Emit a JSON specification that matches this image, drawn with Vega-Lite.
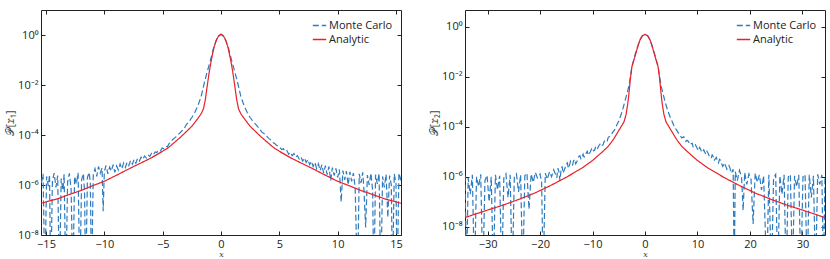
{
"$schema": "https://vega.github.io/schema/vega-lite/v6.json",
"background": "white",
"padding": {"left": 4, "top": 9, "right": 4, "bottom": 0},
"config": {
  "view": {"stroke": null},
  "font": "Open Sans",
  "axis": {"grid": false, "domainColor": "#222", "tickColor": "#222", "labelColor": "#222", "labelFontSize": 11, "tickSize": -4, "labelPadding": 7, "domainWidth": 1, "tickWidth": 1, "labelFont": "Open Sans"},
  "legend": {"orient": "top-right", "offset": 8, "title": null, "labelFontSize": 11, "labelFont": "Open Sans", "labelColor": "#222", "symbolType": "stroke", "symbolStrokeWidth": 1.3, "symbolSize": 180, "rowPadding": 1, "labelOffset": 2, "padding": 0}
},
"spacing": 25,
"resolve": {"scale": {"color": "independent", "strokeDash": "independent"}},
"datasets": {
"L": [
{"s":"Analytic","x":-15.43,"p":1.86e-7},{"s":"Analytic","x":-14,"p":2.82e-7},{"s":"Analytic","x":-13,"p":4.17e-7},{"s":"Analytic","x":-12,"p":6.03e-7},{"s":"Analytic","x":-11,"p":9.33e-7},{"s":"Analytic","x":-10,"p":1.41e-6},{"s":"Analytic","x":-9,"p":2.4e-6},{"s":"Analytic","x":-8,"p":4.17e-6},{"s":"Analytic","x":-7,"p":7.08e-6},{"s":"Analytic","x":-6,"p":1.2e-5},{"s":"Analytic","x":-5,"p":2.24e-5},{"s":"Analytic","x":-4.5,"p":3.16e-5},{"s":"Analytic","x":-4,"p":5.01e-5},{"s":"Analytic","x":-3.5,"p":7.94e-5},{"s":"Analytic","x":-3,"p":1.32e-4},{"s":"Analytic","x":-2.5,"p":2.24e-4},{"s":"Analytic","x":-2,"p":4.47e-4},{"s":"Analytic","x":-1.7,"p":7.08e-4},{"s":"Analytic","x":-1.5,"p":1.12e-3},{"s":"Analytic","x":-1.35,"p":2.51e-3},{"s":"Analytic","x":-1.2,"p":7.94e-3},{"s":"Analytic","x":-1.0,"p":0.0355},{"s":"Analytic","x":-0.8,"p":0.117},{"s":"Analytic","x":-0.6,"p":0.316},{"s":"Analytic","x":-0.4,"p":0.631},{"s":"Analytic","x":-0.2,"p":0.933},{"s":"Analytic","x":0,"p":1.07},
{"s":"Analytic","x":0.2,"p":0.933},{"s":"Analytic","x":0.4,"p":0.631},{"s":"Analytic","x":0.6,"p":0.316},{"s":"Analytic","x":0.8,"p":0.117},{"s":"Analytic","x":1.0,"p":0.0355},{"s":"Analytic","x":1.2,"p":7.94e-3},{"s":"Analytic","x":1.35,"p":2.51e-3},{"s":"Analytic","x":1.5,"p":1.12e-3},{"s":"Analytic","x":1.7,"p":7.08e-4},{"s":"Analytic","x":2,"p":4.47e-4},{"s":"Analytic","x":2.5,"p":2.24e-4},{"s":"Analytic","x":3,"p":1.32e-4},{"s":"Analytic","x":3.5,"p":7.94e-5},{"s":"Analytic","x":4,"p":5.01e-5},{"s":"Analytic","x":4.5,"p":3.16e-5},{"s":"Analytic","x":5,"p":2.24e-5},{"s":"Analytic","x":6,"p":1.2e-5},{"s":"Analytic","x":7,"p":7.08e-6},{"s":"Analytic","x":8,"p":4.17e-6},{"s":"Analytic","x":9,"p":2.4e-6},{"s":"Analytic","x":10,"p":1.41e-6},{"s":"Analytic","x":11,"p":9.33e-7},{"s":"Analytic","x":12,"p":6.03e-7},{"s":"Analytic","x":13,"p":4.17e-7},{"s":"Analytic","x":14,"p":2.82e-7},{"s":"Analytic","x":15.43,"p":1.86e-7},
{"s":"Monte Carlo","x":-15.4,"p":1.2e-6},{"s":"Monte Carlo","x":-15.25,"p":2.8e-6},{"s":"Monte Carlo","x":-15.1,"p":1e-10},{"s":"Monte Carlo","x":-14.95,"p":2.2e-6},{"s":"Monte Carlo","x":-14.8,"p":9e-7},{"s":"Monte Carlo","x":-14.7,"p":2.6e-6},{"s":"Monte Carlo","x":-14.6,"p":1e-10},{"s":"Monte Carlo","x":-14.45,"p":1.5e-6},{"s":"Monte Carlo","x":-14.3,"p":3.0e-6},{"s":"Monte Carlo","x":-14.15,"p":8e-7},{"s":"Monte Carlo","x":-14.0,"p":2.4e-6},{"s":"Monte Carlo","x":-13.85,"p":1e-10},{"s":"Monte Carlo","x":-13.7,"p":1.8e-6},{"s":"Monte Carlo","x":-13.55,"p":6e-7},{"s":"Monte Carlo","x":-13.45,"p":2.7e-6},{"s":"Monte Carlo","x":-13.3,"p":1e-10},{"s":"Monte Carlo","x":-13.15,"p":1.3e-6},{"s":"Monte Carlo","x":-13.0,"p":2.9e-6},{"s":"Monte Carlo","x":-12.85,"p":7e-7},{"s":"Monte Carlo","x":-12.7,"p":1e-10},{"s":"Monte Carlo","x":-12.55,"p":2.2e-6},{"s":"Monte Carlo","x":-12.4,"p":1.1e-6},{"s":"Monte Carlo","x":-12.25,"p":3.1e-6},{"s":"Monte Carlo","x":-12.1,"p":1e-10},{"s":"Monte Carlo","x":-11.95,"p":1.6e-6},{"s":"Monte Carlo","x":-11.8,"p":2.9e-6},{"s":"Monte Carlo","x":-11.7,"p":6e-7},{"s":"Monte Carlo","x":-11.6,"p":1e-10},{"s":"Monte Carlo","x":-11.45,"p":2.0e-6},{"s":"Monte Carlo","x":-11.3,"p":3.2e-6},{"s":"Monte Carlo","x":-11.2,"p":1.2e-6},{"s":"Monte Carlo","x":-11.1,"p":1e-10},{"s":"Monte Carlo","x":-10.95,"p":2.6e-6},{"s":"Monte Carlo","x":-10.8,"p":4.5e-6},{"s":"Monte Carlo","x":-10.65,"p":2.2e-6},{"s":"Monte Carlo","x":-10.5,"p":5.5e-6},{"s":"Monte Carlo","x":-10.35,"p":3.0e-6},{"s":"Monte Carlo","x":-10.2,"p":4.8e-6},{"s":"Monte Carlo","x":-10.1,"p":9e-8},{"s":"Monte Carlo","x":-10.0,"p":3.5e-6},{"s":"Monte Carlo","x":-9.85,"p":6.0e-6},{"s":"Monte Carlo","x":-9.7,"p":2.8e-6},{"s":"Monte Carlo","x":-9.55,"p":5.2e-6},{"s":"Monte Carlo","x":-9.4,"p":3.6e-6},{"s":"Monte Carlo","x":-9.25,"p":6.5e-6},{"s":"Monte Carlo","x":-9.1,"p":3.2e-6},{"s":"Monte Carlo","x":-8.95,"p":5.8e-6},{"s":"Monte Carlo","x":-8.8,"p":4.0e-6},{"s":"Monte Carlo","x":-8.65,"p":7.0e-6},{"s":"Monte Carlo","x":-8.5,"p":4.4e-6},{"s":"Monte Carlo","x":-8.35,"p":7.5e-6},{"s":"Monte Carlo","x":-8.2,"p":5.0e-6},{"s":"Monte Carlo","x":-8.05,"p":8.0e-6},{"s":"Monte Carlo","x":-7.9,"p":6.0e-6},{"s":"Monte Carlo","x":-7.75,"p":9.5e-6},{"s":"Monte Carlo","x":-7.6,"p":6.8e-6},{"s":"Monte Carlo","x":-7.45,"p":1.05e-5},{"s":"Monte Carlo","x":-7.3,"p":7.5e-6},{"s":"Monte Carlo","x":-7.15,"p":1.15e-5},{"s":"Monte Carlo","x":-7.0,"p":9.0e-6},{"s":"Monte Carlo","x":-6.85,"p":1.3e-5},{"s":"Monte Carlo","x":-6.7,"p":1.05e-5},{"s":"Monte Carlo","x":-6.55,"p":1.45e-5},{"s":"Monte Carlo","x":-6.4,"p":1.2e-5},{"s":"Monte Carlo","x":-6.25,"p":1.6e-5},{"s":"Monte Carlo","x":-6.1,"p":1.4e-5},{"s":"Monte Carlo","x":-5.95,"p":1.85e-5},{"s":"Monte Carlo","x":-5.8,"p":1.6e-5},{"s":"Monte Carlo","x":-5.65,"p":2.1e-5},{"s":"Monte Carlo","x":-5.5,"p":2.0e-5},{"s":"Monte Carlo","x":-5.35,"p":2.5e-5},{"s":"Monte Carlo","x":-5.2,"p":2.3e-5},{"s":"Monte Carlo","x":-5.05,"p":3.0e-5},{"s":"Monte Carlo","x":-4.9,"p":2.8e-5},{"s":"Monte Carlo","x":-4.75,"p":3.5e-5},{"s":"Monte Carlo","x":-4.6,"p":3.4e-5},{"s":"Monte Carlo","x":-4.45,"p":4.5e-5},{"s":"Monte Carlo","x":-4.3,"p":5.2e-5},{"s":"Monte Carlo","x":-4.15,"p":6.5e-5},{"s":"Monte Carlo","x":-4.0,"p":7.5e-5},{"s":"Monte Carlo","x":-3.85,"p":8.5e-5},{"s":"Monte Carlo","x":-3.7,"p":1.0e-4},{"s":"Monte Carlo","x":-3.5,"p":1.25e-4},{"s":"Monte Carlo","x":-3.3,"p":1.55e-4},{"s":"Monte Carlo","x":-3.1,"p":2.0e-4},{"s":"Monte Carlo","x":-3.0,"p":2.5e-4},{"s":"Monte Carlo","x":-2.75,"p":3.4e-4},{"s":"Monte Carlo","x":-2.5,"p":5.0e-4},{"s":"Monte Carlo","x":-2.25,"p":8.0e-4},{"s":"Monte Carlo","x":-2.0,"p":1.4e-3},{"s":"Monte Carlo","x":-1.7,"p":3.5e-3},{"s":"Monte Carlo","x":-1.45,"p":0.0112},{"s":"Monte Carlo","x":-1.2,"p":0.0316},{"s":"Monte Carlo","x":-0.9,"p":0.1},{"s":"Monte Carlo","x":-0.6,"p":0.355},{"s":"Monte Carlo","x":-0.3,"p":0.79},{"s":"Monte Carlo","x":0,"p":1.07},
{"s":"Monte Carlo","x":0.3,"p":0.79},{"s":"Monte Carlo","x":0.6,"p":0.355},{"s":"Monte Carlo","x":0.9,"p":0.1},{"s":"Monte Carlo","x":1.2,"p":0.0316},{"s":"Monte Carlo","x":1.45,"p":0.0112},{"s":"Monte Carlo","x":1.7,"p":3.5e-3},{"s":"Monte Carlo","x":2.0,"p":1.4e-3},{"s":"Monte Carlo","x":2.25,"p":8.0e-4},{"s":"Monte Carlo","x":2.5,"p":5.0e-4},{"s":"Monte Carlo","x":2.75,"p":3.5e-4},{"s":"Monte Carlo","x":3.0,"p":2.6e-4},{"s":"Monte Carlo","x":3.25,"p":1.9e-4},{"s":"Monte Carlo","x":3.5,"p":1.3e-4},{"s":"Monte Carlo","x":3.75,"p":1.1e-4},{"s":"Monte Carlo","x":4.0,"p":8.0e-5},{"s":"Monte Carlo","x":4.15,"p":7.0e-5},{"s":"Monte Carlo","x":4.3,"p":6.2e-5},{"s":"Monte Carlo","x":4.45,"p":5.0e-5},{"s":"Monte Carlo","x":4.6,"p":4.6e-5},{"s":"Monte Carlo","x":4.75,"p":3.9e-5},{"s":"Monte Carlo","x":4.9,"p":3.6e-5},{"s":"Monte Carlo","x":5.05,"p":3.2e-5},{"s":"Monte Carlo","x":5.2,"p":2.6e-5},{"s":"Monte Carlo","x":5.35,"p":2.8e-5},{"s":"Monte Carlo","x":5.5,"p":2.2e-5},{"s":"Monte Carlo","x":5.65,"p":2.4e-5},{"s":"Monte Carlo","x":5.8,"p":1.7e-5},{"s":"Monte Carlo","x":5.95,"p":2.0e-5},{"s":"Monte Carlo","x":6.1,"p":1.5e-5},{"s":"Monte Carlo","x":6.25,"p":1.8e-5},{"s":"Monte Carlo","x":6.4,"p":1.3e-5},{"s":"Monte Carlo","x":6.55,"p":1.5e-5},{"s":"Monte Carlo","x":6.7,"p":1.1e-5},{"s":"Monte Carlo","x":6.85,"p":1.35e-5},{"s":"Monte Carlo","x":7.0,"p":9.0e-6},{"s":"Monte Carlo","x":7.15,"p":1.2e-5},{"s":"Monte Carlo","x":7.3,"p":8.0e-6},{"s":"Monte Carlo","x":7.45,"p":1.05e-5},{"s":"Monte Carlo","x":7.6,"p":6.5e-6},{"s":"Monte Carlo","x":7.75,"p":9.0e-6},{"s":"Monte Carlo","x":7.9,"p":5.5e-6},{"s":"Monte Carlo","x":8.05,"p":8.0e-6},{"s":"Monte Carlo","x":8.2,"p":4.5e-6},{"s":"Monte Carlo","x":8.35,"p":7.0e-6},{"s":"Monte Carlo","x":8.5,"p":3.8e-6},{"s":"Monte Carlo","x":8.65,"p":6.5e-6},{"s":"Monte Carlo","x":8.8,"p":3.0e-6},{"s":"Monte Carlo","x":8.95,"p":6.0e-6},{"s":"Monte Carlo","x":9.1,"p":2.6e-6},{"s":"Monte Carlo","x":9.25,"p":5.5e-6},{"s":"Monte Carlo","x":9.4,"p":1.5e-6},{"s":"Monte Carlo","x":9.55,"p":5.0e-6},{"s":"Monte Carlo","x":9.7,"p":2.4e-6},{"s":"Monte Carlo","x":9.85,"p":4.6e-6},{"s":"Monte Carlo","x":10.0,"p":2.0e-6},{"s":"Monte Carlo","x":10.15,"p":4.2e-6},{"s":"Monte Carlo","x":10.3,"p":2.1e-7},{"s":"Monte Carlo","x":10.45,"p":3.8e-6},{"s":"Monte Carlo","x":10.6,"p":1.6e-6},{"s":"Monte Carlo","x":10.75,"p":3.6e-6},{"s":"Monte Carlo","x":10.9,"p":1.0e-6},{"s":"Monte Carlo","x":11.05,"p":3.4e-6},{"s":"Monte Carlo","x":11.2,"p":1.4e-6},{"s":"Monte Carlo","x":11.35,"p":3.0e-6},{"s":"Monte Carlo","x":11.5,"p":8e-7},{"s":"Monte Carlo","x":11.7,"p":1e-10},{"s":"Monte Carlo","x":11.85,"p":2.8e-6},{"s":"Monte Carlo","x":12.0,"p":1.2e-6},{"s":"Monte Carlo","x":12.15,"p":3.2e-6},{"s":"Monte Carlo","x":12.25,"p":7e-7},{"s":"Monte Carlo","x":12.4,"p":2e-8},{"s":"Monte Carlo","x":12.55,"p":2.5e-6},{"s":"Monte Carlo","x":12.7,"p":1.0e-6},{"s":"Monte Carlo","x":12.85,"p":3.0e-6},{"s":"Monte Carlo","x":13.0,"p":6e-7},{"s":"Monte Carlo","x":13.1,"p":1e-10},{"s":"Monte Carlo","x":13.25,"p":2.6e-6},{"s":"Monte Carlo","x":13.4,"p":1.1e-6},{"s":"Monte Carlo","x":13.55,"p":2.9e-6},{"s":"Monte Carlo","x":13.7,"p":1e-10},{"s":"Monte Carlo","x":13.85,"p":2.2e-6},{"s":"Monte Carlo","x":14.0,"p":8e-7},{"s":"Monte Carlo","x":14.15,"p":2.7e-6},{"s":"Monte Carlo","x":14.3,"p":5e-8},{"s":"Monte Carlo","x":14.45,"p":2.4e-6},{"s":"Monte Carlo","x":14.6,"p":1.0e-6},{"s":"Monte Carlo","x":14.7,"p":1e-10},{"s":"Monte Carlo","x":14.85,"p":2.8e-6},{"s":"Monte Carlo","x":15.0,"p":1.2e-6},{"s":"Monte Carlo","x":15.1,"p":1e-10},{"s":"Monte Carlo","x":15.25,"p":3.0e-6},{"s":"Monte Carlo","x":15.43,"p":1.5e-6}
],
"R": [
{"s":"Analytic","x":-34.3,"p":2.34e-8},{"s":"Analytic","x":-30,"p":4.68e-8},{"s":"Analytic","x":-27,"p":7.41e-8},{"s":"Analytic","x":-24,"p":1.26e-7},{"s":"Analytic","x":-21,"p":2.24e-7},{"s":"Analytic","x":-18,"p":4.47e-7},{"s":"Analytic","x":-15,"p":9.55e-7},{"s":"Analytic","x":-12,"p":2.24e-6},{"s":"Analytic","x":-10,"p":4.47e-6},{"s":"Analytic","x":-8,"p":1.05e-5},{"s":"Analytic","x":-7,"p":1.66e-5},{"s":"Analytic","x":-6,"p":3.16e-5},{"s":"Analytic","x":-5,"p":7.08e-5},{"s":"Analytic","x":-4,"p":1.58e-4},{"s":"Analytic","x":-3.6,"p":3.16e-4},{"s":"Analytic","x":-3.3,"p":7.94e-4},{"s":"Analytic","x":-3.1,"p":1.78e-3},{"s":"Analytic","x":-2.8,"p":7.94e-3},{"s":"Analytic","x":-2.5,"p":0.0251},{"s":"Analytic","x":-2.0,"p":0.0562},{"s":"Analytic","x":-1.5,"p":0.132},{"s":"Analytic","x":-1.0,"p":0.282},{"s":"Analytic","x":-0.5,"p":0.437},{"s":"Analytic","x":0,"p":0.501},
{"s":"Analytic","x":0.5,"p":0.437},{"s":"Analytic","x":1.0,"p":0.282},{"s":"Analytic","x":1.5,"p":0.132},{"s":"Analytic","x":2.0,"p":0.0562},{"s":"Analytic","x":2.5,"p":0.0251},{"s":"Analytic","x":2.8,"p":7.94e-3},{"s":"Analytic","x":3.1,"p":1.78e-3},{"s":"Analytic","x":3.3,"p":7.94e-4},{"s":"Analytic","x":3.6,"p":3.16e-4},{"s":"Analytic","x":4,"p":1.58e-4},{"s":"Analytic","x":5,"p":7.08e-5},{"s":"Analytic","x":6,"p":3.16e-5},{"s":"Analytic","x":7,"p":1.66e-5},{"s":"Analytic","x":8,"p":1.05e-5},{"s":"Analytic","x":10,"p":4.47e-6},{"s":"Analytic","x":12,"p":2.24e-6},{"s":"Analytic","x":15,"p":9.55e-7},{"s":"Analytic","x":18,"p":4.47e-7},{"s":"Analytic","x":21,"p":2.24e-7},{"s":"Analytic","x":24,"p":1.26e-7},{"s":"Analytic","x":27,"p":7.41e-8},{"s":"Analytic","x":30,"p":4.68e-8},{"s":"Analytic","x":34.3,"p":2.34e-8},
{"s":"Monte Carlo","x":-34.3,"p":1.1e-6},{"s":"Monte Carlo","x":-34.0,"p":1e-10},{"s":"Monte Carlo","x":-33.7,"p":9e-7},{"s":"Monte Carlo","x":-33.3,"p":2e-7},{"s":"Monte Carlo","x":-32.9,"p":1.2e-6},{"s":"Monte Carlo","x":-32.5,"p":1e-10},{"s":"Monte Carlo","x":-32.1,"p":1.0e-6},{"s":"Monte Carlo","x":-31.7,"p":4e-7},{"s":"Monte Carlo","x":-31.3,"p":1.25e-6},{"s":"Monte Carlo","x":-30.9,"p":1e-10},{"s":"Monte Carlo","x":-30.5,"p":7e-7},{"s":"Monte Carlo","x":-30.1,"p":1.15e-6},{"s":"Monte Carlo","x":-29.7,"p":1e-7},{"s":"Monte Carlo","x":-29.3,"p":1.0e-6},{"s":"Monte Carlo","x":-28.9,"p":1e-10},{"s":"Monte Carlo","x":-28.5,"p":1.2e-6},{"s":"Monte Carlo","x":-28.1,"p":3e-7},{"s":"Monte Carlo","x":-27.7,"p":1.1e-6},{"s":"Monte Carlo","x":-27.3,"p":1e-10},{"s":"Monte Carlo","x":-26.9,"p":9e-7},{"s":"Monte Carlo","x":-26.5,"p":1.3e-6},{"s":"Monte Carlo","x":-26.1,"p":1.5e-7},{"s":"Monte Carlo","x":-25.7,"p":1.2e-6},{"s":"Monte Carlo","x":-25.3,"p":1e-10},{"s":"Monte Carlo","x":-24.9,"p":1.0e-6},{"s":"Monte Carlo","x":-24.5,"p":1.3e-6},{"s":"Monte Carlo","x":-24.1,"p":2.5e-7},{"s":"Monte Carlo","x":-23.7,"p":1.2e-6},{"s":"Monte Carlo","x":-23.3,"p":1e-10},{"s":"Monte Carlo","x":-22.9,"p":1.1e-6},{"s":"Monte Carlo","x":-22.5,"p":1.4e-6},{"s":"Monte Carlo","x":-22.1,"p":5e-8},{"s":"Monte Carlo","x":-21.7,"p":1.3e-6},{"s":"Monte Carlo","x":-21.3,"p":6e-7},{"s":"Monte Carlo","x":-20.9,"p":1.5e-6},{"s":"Monte Carlo","x":-20.5,"p":9e-7},{"s":"Monte Carlo","x":-20.0,"p":1.3e-6},{"s":"Monte Carlo","x":-19.7,"p":6e-7},{"s":"Monte Carlo","x":-19.4,"p":1e-10},{"s":"Monte Carlo","x":-19.0,"p":1.4e-6},{"s":"Monte Carlo","x":-18.6,"p":8e-7},{"s":"Monte Carlo","x":-18.2,"p":1.6e-6},{"s":"Monte Carlo","x":-17.8,"p":1.0e-6},{"s":"Monte Carlo","x":-17.4,"p":1.9e-6},{"s":"Monte Carlo","x":-17.0,"p":1.2e-6},{"s":"Monte Carlo","x":-16.8,"p":9e-7},{"s":"Monte Carlo","x":-16.6,"p":2.2e-6},{"s":"Monte Carlo","x":-16.4,"p":1.6e-6},{"s":"Monte Carlo","x":-16.2,"p":7e-7},{"s":"Monte Carlo","x":-16.0,"p":1.9e-6},{"s":"Monte Carlo","x":-15.8,"p":2.6e-6},{"s":"Monte Carlo","x":-15.6,"p":1.4e-6},{"s":"Monte Carlo","x":-15.4,"p":1.8e-6},{"s":"Monte Carlo","x":-15.2,"p":2.4e-6},{"s":"Monte Carlo","x":-15.0,"p":3.2e-6},{"s":"Monte Carlo","x":-14.8,"p":3.6e-6},{"s":"Monte Carlo","x":-14.6,"p":2.2e-6},{"s":"Monte Carlo","x":-14.4,"p":2.8e-6},{"s":"Monte Carlo","x":-14.2,"p":4.2e-6},{"s":"Monte Carlo","x":-14.0,"p":3.4e-6},{"s":"Monte Carlo","x":-13.8,"p":3.0e-6},{"s":"Monte Carlo","x":-13.6,"p":4.4e-6},{"s":"Monte Carlo","x":-13.4,"p":5.0e-6},{"s":"Monte Carlo","x":-13.2,"p":3.3e-6},{"s":"Monte Carlo","x":-13.0,"p":4.0e-6},{"s":"Monte Carlo","x":-12.8,"p":4.8e-6},{"s":"Monte Carlo","x":-12.6,"p":6.5e-6},{"s":"Monte Carlo","x":-12.4,"p":7.0e-6},{"s":"Monte Carlo","x":-12.2,"p":5.2e-6},{"s":"Monte Carlo","x":-12.0,"p":5.8e-6},{"s":"Monte Carlo","x":-11.8,"p":8.0e-6},{"s":"Monte Carlo","x":-11.6,"p":6.2e-6},{"s":"Monte Carlo","x":-11.4,"p":6.5e-6},{"s":"Monte Carlo","x":-11.2,"p":9.0e-6},{"s":"Monte Carlo","x":-11.0,"p":1.05e-5},{"s":"Monte Carlo","x":-10.8,"p":7.2e-6},{"s":"Monte Carlo","x":-10.6,"p":8.5e-6},{"s":"Monte Carlo","x":-10.4,"p":1.0e-5},{"s":"Monte Carlo","x":-10.2,"p":1.3e-5},{"s":"Monte Carlo","x":-10.0,"p":1.45e-5},{"s":"Monte Carlo","x":-9.8,"p":1.1e-5},{"s":"Monte Carlo","x":-9.6,"p":1.15e-5},{"s":"Monte Carlo","x":-9.4,"p":1.6e-5},{"s":"Monte Carlo","x":-9.2,"p":1.3e-5},{"s":"Monte Carlo","x":-9.0,"p":1.4e-5},{"s":"Monte Carlo","x":-8.8,"p":1.75e-5},{"s":"Monte Carlo","x":-8.6,"p":2.0e-5},{"s":"Monte Carlo","x":-8.4,"p":2.2e-5},{"s":"Monte Carlo","x":-8.2,"p":1.8e-5},{"s":"Monte Carlo","x":-8.0,"p":1.9e-5},{"s":"Monte Carlo","x":-7.8,"p":2.5e-5},{"s":"Monte Carlo","x":-7.6,"p":2.9e-5},{"s":"Monte Carlo","x":-7.4,"p":2.6e-5},{"s":"Monte Carlo","x":-7.2,"p":2.7e-5},{"s":"Monte Carlo","x":-7.0,"p":3.8e-5},{"s":"Monte Carlo","x":-6.6,"p":4.3e-5},{"s":"Monte Carlo","x":-6.2,"p":5.8e-5},{"s":"Monte Carlo","x":-5.8,"p":7.5e-5},{"s":"Monte Carlo","x":-5.4,"p":1.15e-4},{"s":"Monte Carlo","x":-5.0,"p":1.7e-4},{"s":"Monte Carlo","x":-4.6,"p":2.9e-4},{"s":"Monte Carlo","x":-4.3,"p":4.5e-4},{"s":"Monte Carlo","x":-3.8,"p":1.1e-3},{"s":"Monte Carlo","x":-3.4,"p":2.24e-3},{"s":"Monte Carlo","x":-3.0,"p":5.0e-3},{"s":"Monte Carlo","x":-2.5,"p":0.0251},{"s":"Monte Carlo","x":-2.0,"p":0.063},{"s":"Monte Carlo","x":-1.5,"p":0.141},{"s":"Monte Carlo","x":-1.0,"p":0.302},{"s":"Monte Carlo","x":-0.5,"p":0.437},{"s":"Monte Carlo","x":0,"p":0.501},
{"s":"Monte Carlo","x":0.5,"p":0.437},{"s":"Monte Carlo","x":1.0,"p":0.302},{"s":"Monte Carlo","x":1.5,"p":0.141},{"s":"Monte Carlo","x":2.0,"p":0.063},{"s":"Monte Carlo","x":2.5,"p":0.0251},{"s":"Monte Carlo","x":3.0,"p":5.0e-3},{"s":"Monte Carlo","x":3.4,"p":2.3e-3},{"s":"Monte Carlo","x":3.8,"p":1.05e-3},{"s":"Monte Carlo","x":4.3,"p":4.6e-4},{"s":"Monte Carlo","x":4.8,"p":2.4e-4},{"s":"Monte Carlo","x":5.2,"p":1.6e-4},{"s":"Monte Carlo","x":5.6,"p":1.0e-4},{"s":"Monte Carlo","x":6.0,"p":7.5e-5},{"s":"Monte Carlo","x":6.4,"p":5.5e-5},{"s":"Monte Carlo","x":6.6,"p":5.0e-5},{"s":"Monte Carlo","x":6.8,"p":4.2e-5},{"s":"Monte Carlo","x":7.0,"p":3.6e-5},{"s":"Monte Carlo","x":7.2,"p":3.8e-5},{"s":"Monte Carlo","x":7.4,"p":4.0e-5},{"s":"Monte Carlo","x":7.6,"p":3.0e-5},{"s":"Monte Carlo","x":7.8,"p":2.6e-5},{"s":"Monte Carlo","x":8.0,"p":2.9e-5},{"s":"Monte Carlo","x":8.2,"p":2.7e-5},{"s":"Monte Carlo","x":8.4,"p":2.3e-5},{"s":"Monte Carlo","x":8.6,"p":1.9e-5},{"s":"Monte Carlo","x":8.8,"p":2.1e-5},{"s":"Monte Carlo","x":9.0,"p":2.2e-5},{"s":"Monte Carlo","x":9.2,"p":1.5e-5},{"s":"Monte Carlo","x":9.4,"p":1.7e-5},{"s":"Monte Carlo","x":9.6,"p":1.9e-5},{"s":"Monte Carlo","x":9.8,"p":1.6e-5},{"s":"Monte Carlo","x":10.0,"p":1.3e-5},{"s":"Monte Carlo","x":10.2,"p":1.1e-5},{"s":"Monte Carlo","x":10.4,"p":1.5e-5},{"s":"Monte Carlo","x":10.6,"p":1.3e-5},{"s":"Monte Carlo","x":10.8,"p":9.5e-6},{"s":"Monte Carlo","x":11.0,"p":1.0e-5},{"s":"Monte Carlo","x":11.2,"p":1.2e-5},{"s":"Monte Carlo","x":11.4,"p":9.5e-6},{"s":"Monte Carlo","x":11.6,"p":8.0e-6},{"s":"Monte Carlo","x":11.8,"p":1.05e-5},{"s":"Monte Carlo","x":12.0,"p":9.0e-6},{"s":"Monte Carlo","x":12.2,"p":7.0e-6},{"s":"Monte Carlo","x":12.4,"p":6.0e-6},{"s":"Monte Carlo","x":12.6,"p":5.5e-6},{"s":"Monte Carlo","x":12.8,"p":7.5e-6},{"s":"Monte Carlo","x":13.0,"p":6.5e-6},{"s":"Monte Carlo","x":13.2,"p":4.6e-6},{"s":"Monte Carlo","x":13.4,"p":5.2e-6},{"s":"Monte Carlo","x":13.6,"p":6.0e-6},{"s":"Monte Carlo","x":13.8,"p":4.4e-6},{"s":"Monte Carlo","x":14.0,"p":3.6e-6},{"s":"Monte Carlo","x":14.2,"p":5.0e-6},{"s":"Monte Carlo","x":14.4,"p":4.6e-6},{"s":"Monte Carlo","x":14.6,"p":3.4e-6},{"s":"Monte Carlo","x":14.8,"p":2.6e-6},{"s":"Monte Carlo","x":15.0,"p":3.0e-6},{"s":"Monte Carlo","x":15.2,"p":3.6e-6},{"s":"Monte Carlo","x":15.4,"p":2.6e-6},{"s":"Monte Carlo","x":15.6,"p":2.0e-6},{"s":"Monte Carlo","x":15.8,"p":2.4e-6},{"s":"Monte Carlo","x":16.0,"p":2.8e-6},{"s":"Monte Carlo","x":16.2,"p":2.2e-6},{"s":"Monte Carlo","x":16.4,"p":1.4e-6},{"s":"Monte Carlo","x":16.6,"p":1.6e-6},{"s":"Monte Carlo","x":16.8,"p":2.0e-6},{"s":"Monte Carlo","x":17.0,"p":1e-10},{"s":"Monte Carlo","x":17.2,"p":1.6e-6},{"s":"Monte Carlo","x":17.6,"p":7e-7},{"s":"Monte Carlo","x":18.0,"p":1.8e-6},{"s":"Monte Carlo","x":18.4,"p":1.0e-6},{"s":"Monte Carlo","x":18.7,"p":4.5e-8},{"s":"Monte Carlo","x":19.0,"p":1.5e-6},{"s":"Monte Carlo","x":19.4,"p":5e-7},{"s":"Monte Carlo","x":19.8,"p":1.3e-6},{"s":"Monte Carlo","x":20.2,"p":8e-7},{"s":"Monte Carlo","x":20.6,"p":1.3e-8},{"s":"Monte Carlo","x":21.0,"p":1.4e-6},{"s":"Monte Carlo","x":21.4,"p":6e-7},{"s":"Monte Carlo","x":21.8,"p":1.2e-6},{"s":"Monte Carlo","x":22.2,"p":3e-7},{"s":"Monte Carlo","x":22.6,"p":1.1e-6},{"s":"Monte Carlo","x":23.2,"p":1e-10},{"s":"Monte Carlo","x":23.6,"p":1.2e-6},{"s":"Monte Carlo","x":24.1,"p":1e-10},{"s":"Monte Carlo","x":24.5,"p":9e-7},{"s":"Monte Carlo","x":24.9,"p":1.25e-6},{"s":"Monte Carlo","x":25.3,"p":1e-10},{"s":"Monte Carlo","x":25.7,"p":1.1e-6},{"s":"Monte Carlo","x":26.1,"p":2e-7},{"s":"Monte Carlo","x":26.5,"p":1.2e-6},{"s":"Monte Carlo","x":26.9,"p":1e-10},{"s":"Monte Carlo","x":27.3,"p":1.0e-6},{"s":"Monte Carlo","x":27.7,"p":1.25e-6},{"s":"Monte Carlo","x":28.1,"p":1e-10},{"s":"Monte Carlo","x":28.5,"p":1.1e-6},{"s":"Monte Carlo","x":28.9,"p":4e-7},{"s":"Monte Carlo","x":29.3,"p":1.2e-6},{"s":"Monte Carlo","x":29.7,"p":1e-10},{"s":"Monte Carlo","x":30.1,"p":1.0e-6},{"s":"Monte Carlo","x":30.5,"p":1.25e-6},{"s":"Monte Carlo","x":30.9,"p":1e-10},{"s":"Monte Carlo","x":31.3,"p":1.2e-6},{"s":"Monte Carlo","x":31.7,"p":1.5e-7},{"s":"Monte Carlo","x":32.1,"p":1.1e-6},{"s":"Monte Carlo","x":32.5,"p":1e-10},{"s":"Monte Carlo","x":32.9,"p":1.25e-6},{"s":"Monte Carlo","x":33.3,"p":5e-7},{"s":"Monte Carlo","x":33.7,"p":1.2e-6},{"s":"Monte Carlo","x":34.0,"p":1e-10},{"s":"Monte Carlo","x":34.3,"p":1.0e-6}
]
},
"hconcat": [
{
  "width": 360, "height": 225,
  "data": {"name": "L"},
  "resolve": {"axis": {"x": "independent", "y": "independent"}},
  "layer": [
    {
      "transform": [{"filter": "datum.s == 'Monte Carlo'"}],
      "mark": {"type": "line", "clip": true, "strokeWidth": 1.2},
      "encoding": {
        "x": {"field": "x", "type": "quantitative", "scale": {"domain": [-15.43, 15.43], "nice": false, "zero": false}, "axis": {"orient": "top", "labels": false, "title": null, "values": [-15, -10, -5, 0, 5, 10, 15]}},
        "y": {"field": "p", "type": "quantitative", "scale": {"type": "log", "domain": [1e-8, 10], "nice": false}, "axis": {"orient": "right", "labels": false, "title": null, "values": [1e-8, 1e-6, 1e-4, 1e-2, 1]}},
        "color": {"field": "s", "type": "nominal", "scale": {"domain": ["Monte Carlo", "Analytic"], "range": ["#2f7bbf", "#e8202a"]}, "legend": {"title": null, "encode": {"symbols": {"update": {"stroke": [{"test": "datum.value === 'Monte Carlo'", "value": "#2f7bbf"}, {"value": "#e8202a"}], "strokeDash": [{"test": "datum.value === 'Monte Carlo'", "value": [4, 2]}, {"value": [1, 0]}]}}}}},
        "strokeDash": {"field": "s", "type": "nominal", "scale": {"domain": ["Monte Carlo", "Analytic"], "range": [[6, 3], [1, 0]]}, "legend": null}
      }
    },
    {
      "transform": [{"filter": "datum.s == 'Analytic'"}],
      "mark": {"type": "line", "clip": true, "strokeWidth": 1.2},
      "encoding": {
        "x": {"field": "x", "type": "quantitative", "axis": {"orient": "bottom", "title": "x", "titleFont": "DejaVu Serif", "titleFontStyle": "italic", "titleFontWeight": "normal", "titleFontSize": 8, "titlePadding": 1, "titleColor": "#444", "values": [-15, -10, -5, 0, 5, 10, 15]}},
        "y": {"field": "p", "type": "quantitative", "axis": {"orient": "left", "title": "𝒫[𝑥₁]", "titleFontWeight": "normal", "titleFontSize": 11, "titleColor": "#444", "titlePadding": 2, "values": [1e-8, 1e-6, 1e-4, 1e-2, 1], "labelExpr": "datum.value < 1e-7 ? '10⁻⁸' : datum.value < 1e-5 ? '10⁻⁶' : datum.value < 1e-3 ? '10⁻⁴' : datum.value < 0.1 ? '10⁻²' : '10⁰'"}},
        "color": {"field": "s", "type": "nominal", "legend": {"title": null, "encode": {"symbols": {"update": {"stroke": [{"test": "datum.value === 'Monte Carlo'", "value": "#2f7bbf"}, {"value": "#e8202a"}], "strokeDash": [{"test": "datum.value === 'Monte Carlo'", "value": [4, 2]}, {"value": [1, 0]}]}}}}},
        "strokeDash": {"field": "s", "type": "nominal", "legend": null}
      }
    }
  ]
},
{
  "width": 360, "height": 225,
  "data": {"name": "R"},
  "resolve": {"axis": {"x": "independent", "y": "independent"}},
  "layer": [
    {
      "transform": [{"filter": "datum.s == 'Monte Carlo'"}],
      "mark": {"type": "line", "clip": true, "strokeWidth": 1.2},
      "encoding": {
        "x": {"field": "x", "type": "quantitative", "scale": {"domain": [-34.3, 34.3], "nice": false, "zero": false}, "axis": {"orient": "top", "labels": false, "title": null, "values": [-30, -20, -10, 0, 10, 20, 30]}},
        "y": {"field": "p", "type": "quantitative", "scale": {"type": "log", "domain": [4.7e-9, 4.7], "nice": false}, "axis": {"orient": "right", "labels": false, "title": null, "values": [1e-8, 1e-6, 1e-4, 1e-2, 1]}},
        "color": {"field": "s", "type": "nominal", "scale": {"domain": ["Monte Carlo", "Analytic"], "range": ["#2f7bbf", "#e8202a"]}, "legend": {"title": null, "encode": {"symbols": {"update": {"stroke": [{"test": "datum.value === 'Monte Carlo'", "value": "#2f7bbf"}, {"value": "#e8202a"}], "strokeDash": [{"test": "datum.value === 'Monte Carlo'", "value": [4, 2]}, {"value": [1, 0]}]}}}}},
        "strokeDash": {"field": "s", "type": "nominal", "scale": {"domain": ["Monte Carlo", "Analytic"], "range": [[6, 3], [1, 0]]}, "legend": null}
      }
    },
    {
      "transform": [{"filter": "datum.s == 'Analytic'"}],
      "mark": {"type": "line", "clip": true, "strokeWidth": 1.2},
      "encoding": {
        "x": {"field": "x", "type": "quantitative", "axis": {"orient": "bottom", "title": "x", "titleFont": "DejaVu Serif", "titleFontStyle": "italic", "titleFontWeight": "normal", "titleFontSize": 8, "titlePadding": 1, "titleColor": "#444", "values": [-30, -20, -10, 0, 10, 20, 30]}},
        "y": {"field": "p", "type": "quantitative", "axis": {"orient": "left", "title": "𝒫[𝑥₂]", "titleFontWeight": "normal", "titleFontSize": 11, "titleColor": "#444", "titlePadding": 2, "values": [1e-8, 1e-6, 1e-4, 1e-2, 1], "labelExpr": "datum.value < 1e-7 ? '10⁻⁸' : datum.value < 1e-5 ? '10⁻⁶' : datum.value < 1e-3 ? '10⁻⁴' : datum.value < 0.1 ? '10⁻²' : '10⁰'"}},
        "color": {"field": "s", "type": "nominal", "legend": {"title": null, "encode": {"symbols": {"update": {"stroke": [{"test": "datum.value === 'Monte Carlo'", "value": "#2f7bbf"}, {"value": "#e8202a"}], "strokeDash": [{"test": "datum.value === 'Monte Carlo'", "value": [4, 2]}, {"value": [1, 0]}]}}}}},
        "strokeDash": {"field": "s", "type": "nominal", "legend": null}
      }
    }
  ]
}
]
}
